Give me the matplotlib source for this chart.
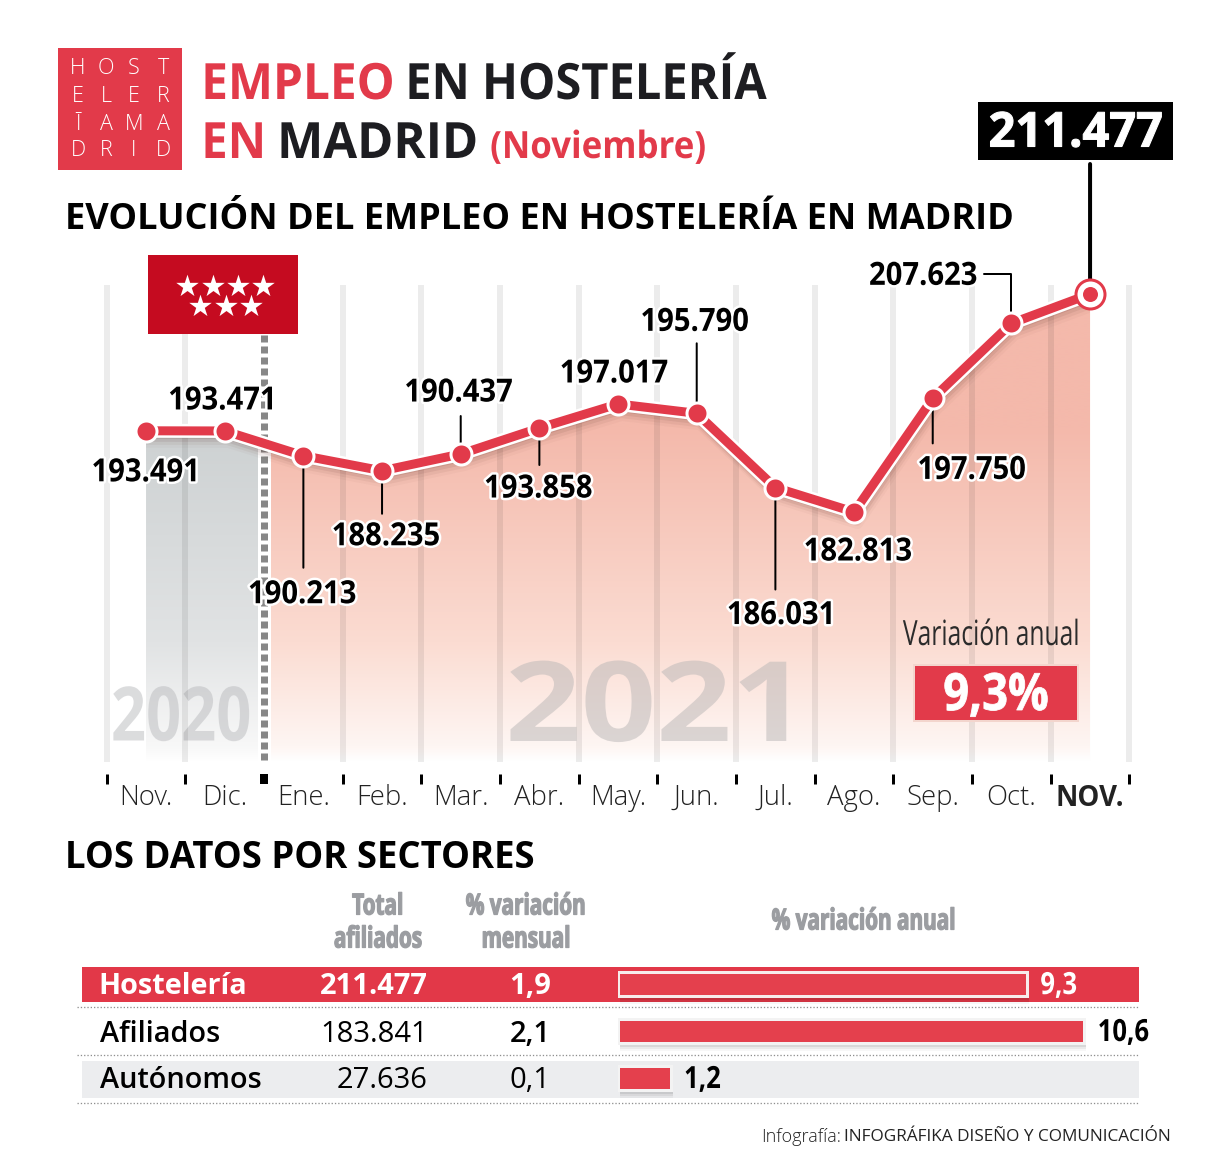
import numpy as np
import matplotlib
matplotlib.use('Agg')
import matplotlib.pyplot as plt
import matplotlib.patheffects as pe
from matplotlib.patches import Rectangle
from matplotlib.transforms import Affine2D, offset_copy

# Data
months = ['Nov.', 'Dic.', 'Ene.', 'Feb.', 'Mar.', 'Abr.', 'May.', 'Jun.', 'Jul.', 'Ago.', 'Sep.', 'Oct.', 'NOV.']
empleo = [193491, 193471, 190213, 188235, 190437, 193858, 197017, 195790, 186031, 182813, 197750, 207623, 211477]
empleo_labels = ['193.491', '193.471', '190.213', '188.235', '190.437', '193.858', '197.017',
                 '195.790', '186.031', '182.813', '197.750', '207.623']
sectores = ['Hostelería', 'Afiliados', 'Autónomos']
total_afiliados = ['211.477', '183.841', '27.636']
var_mensual = ['1,9', '2,1', '0,1']
var_anual = [9.3, 10.6, 1.2]
var_anual_labels = ['9,3', '10,6', '1,2']

W, H = 1205, 1165
P = 0.72  # points per pixel at dpi 100
RED = '#e23a4a'

plt.rcParams['font.family'] = ['Open Sans', 'DejaVu Sans']
plt.rcParams['lines.scale_dashes'] = False

fig = plt.figure(figsize=(W / 100, H / 100), dpi=100, facecolor='white')


class Squeeze(pe.AbstractPathEffect):
    """No condensed fonts here, so narrow the glyphs of a real text when it is drawn."""

    def __init__(self, sx, anchor='center', halo=0, fat=0):
        super().__init__()
        self.sx, self.anchor, self.halo, self.fat = sx, anchor, halo, fat

    def draw_path(self, renderer, gc, tpath, affine, rgbFace=None):
        e = tpath.get_extents()
        cx = {'left': e.x0, 'center': (e.x0 + e.x1) / 2, 'right': e.x1}[self.anchor]
        t = Affine2D().translate(-cx, 0).scale(self.sx, 1).translate(cx, 0) + affine
        if self.halo:
            gc0 = renderer.new_gc()
            gc0.copy_properties(gc)
            gc0.set_foreground('white')
            gc0.set_linewidth(self.halo)
            renderer.draw_path(gc0, tpath, t, (1, 1, 1))
            gc0.restore()
        gc1 = renderer.new_gc()
        gc1.copy_properties(gc)
        gc1.set_foreground(rgbFace)
        gc1.set_linewidth(self.fat)
        renderer.draw_path(gc1, tpath, t, rgbFace)
        gc1.restore()


def axes_px(l, t, r, b, **kw):
    return fig.add_axes([l / W, 1 - b / H, (r - l) / W, (b - t) / H], **kw)


# Background layer in picture pixels, for the furniture around the charts
bg = axes_px(0, 0, W, H, zorder=0)
bg.set_xlim(0, W)
bg.set_ylim(H, 0)
bg.axis('off')

# ============================================================================
# Header
# ============================================================================
bg.add_patch(Rectangle((58, 48), 124, 122, color=RED, lw=0))
logo_rows = ['HOST', 'ELER', 'ĪAMA', 'DRID']
for row, y in zip(logo_rows, [69, 97, 124, 150]):
    for ch, x in zip(row, [78, 106, 134, 163]):
        bg.text(x, y, ch, color='white', fontsize=15.5, weight='light', ha='center', va='center')

title_kw = dict(fontsize=36, weight='bold', va='baseline')
bg.text(201, 99, 'EMPLEO', color=RED, path_effects=[Squeeze(0.955, 'left')], **title_kw)
bg.text(405, 99, 'EN HOSTELERÍA', color='#1d1d21', path_effects=[Squeeze(0.94, 'left')], **title_kw)
bg.text(201, 158, 'EN', color=RED, path_effects=[Squeeze(0.945, 'left')], **title_kw)
bg.text(277, 158, 'MADRID', color='#1d1d21', path_effects=[Squeeze(0.98, 'left')], **title_kw)
bg.text(490, 158, '(Noviembre)', color=RED, fontsize=27, weight='bold', va='baseline',
        path_effects=[Squeeze(0.93, 'left')])

bg.text(65, 229, 'EVOLUCIÓN DEL EMPLEO EN HOSTELERÍA EN MADRID', color='black',
        fontsize=26, weight='bold', va='baseline')
bg.text(65, 868, 'LOS DATOS POR SECTORES', color='black', fontsize=26.3, weight='bold', va='baseline')

# ============================================================================
# Line chart
# ============================================================================
ax = axes_px(106.7, 285, 1129.4, 762, zorder=1)
ax.patch.set_alpha(0)
ax.set_xlim(-0.5, 12.5)
ax.set_ylim(149940, 212662)
for s in ['top', 'left', 'right']:
    ax.spines[s].set_visible(False)
ax.spines['bottom'].set_position(('outward', 12 * P))
ax.spines['bottom'].set_visible(False)
ax.set_yticks([])

x = np.arange(len(empleo))
y_top, y_bot = ax.get_ylim()[1], ax.get_ylim()[0]

# Gradient area under the line, gray for 2020 and salmon for 2021
shape = ax.fill_between(x, empleo, y_bot, color='none', lw=0)
area = shape.get_paths()[0]
stops = np.array([0.0, 0.3, 0.75, 0.97, 1.0])


def gradient(c0, c1, c2):
    cols = np.array([matplotlib.colors.to_rgb(c) for c in [c0, c0, c1, c2, 'white']])
    t = np.linspace(0, 1, 256)
    return np.stack([np.interp(t, stops, cols[:, i]) for i in range(3)], axis=1)[:, None, :]


for img, x0, x1 in [(gradient('#cdd1d2', '#e1e3e4', '#f8f8f8'), 0, 1.5),
                    (gradient('#f4b9ab', '#fbdcd2', '#fef6f3'), 1.5, 12)]:
    im = ax.imshow(img, extent=(x0, x1, y_bot, y_top), aspect='auto', zorder=1, interpolation='bilinear')
    im.set_clip_path(area, transform=ax.transData)
ax.set_xlim(-0.5, 12.5)
ax.set_ylim(y_bot, y_top)

# Big pale year marks
year_kw = dict(transform=bg.transData, ha='center', va='center', zorder=2, clip_on=False, weight='bold')
ax.text(181, 721, '2020', color='#b9babd', alpha=0.5, fontsize=54, path_effects=[Squeeze(0.82)], **year_kw)
ax.text(655, 712, '2021', color='#b9b6b6', alpha=0.5, fontsize=80, path_effects=[Squeeze(1.19)], **year_kw)

# Column gridlines, translucent so they darken over the area
edges = np.arange(-0.5, 13, 1.0)
grid_x = [e for e in edges if e != 1.5]
ax.vlines(grid_x, y_bot, y_top, color='black', alpha=0.075, lw=6 * P, zorder=3, clip_on=False)

# 2020 / 2021 divider
ax.plot([264, 264], [335, 762], color='white', lw=13 * P, zorder=3.1, transform=bg.transData, clip_on=False)
ax.plot([264, 264], [335, 762], color='#878787', lw=7 * P, ls=(0, (7 * P, 4 * P)), zorder=3.2,
        transform=bg.transData, clip_on=False)

# Soft shadow below the line
for off, a in [(3, 0.12), (6, 0.09), (9, 0.06), (12, 0.03)]:
    shadow, = ax.plot(x, empleo, color='#5a2a22', alpha=a, lw=10 * P, zorder=3.3,
                      transform=offset_copy(ax.transData, fig, x=off * 0.3, y=-off, units='dots'))
    shadow.set_clip_path(area, transform=ax.transData)

# Line and points
ax.plot(x, empleo, color='white', lw=14 * P, zorder=4, solid_joinstyle='round')
ax.plot(x, empleo, color=RED, lw=9 * P, zorder=5, solid_joinstyle='round')
ax.plot(x[:-1], empleo[:-1], 'o', color=RED, ms=21 * P, mec='white', mew=3 * P, zorder=6)
ax.plot(x[-1:], empleo[-1:], 'o', color='white', ms=29 * P, mec=RED, mew=3 * P, zorder=6, clip_on=False)
ax.plot(x[-1:], empleo[-1:], 'o', color=RED, ms=15 * P, mew=0, zorder=7, clip_on=False)

# Value labels, offsets in pixels from their point
label_offset = [(0, -42), (-2, 30), (-1, -139), (4, -66), (-2, 61), (-1, -61), (-4, 30),
                (-2, 91), (6, -128), (4, -40), (39, -72), (-88, 47)]
for i, (txt, off) in enumerate(zip(empleo_labels, label_offset)):
    ax.annotate(txt, xy=(i, empleo[i]), xytext=off, textcoords='offset pixels', ha='center', va='center',
                fontsize=23, weight='bold', color='black', zorder=8,
                path_effects=[Squeeze(0.915, halo=5 * P)])

leader_len = {2: -112, 3: -43, 4: 38, 5: -37, 7: 70, 8: -102, 10: -45}
for i, dy in leader_len.items():
    ax.annotate('', xy=(i, empleo[i]), xytext=(0, dy), textcoords='offset pixels', zorder=3.6,
                arrowprops=dict(arrowstyle='-', color='black', lw=2 * P, shrinkA=0, shrinkB=0))
ax.annotate('', xy=(11, empleo[11]), xytext=(-27, 49), textcoords='offset pixels', zorder=3.6,
            arrowprops=dict(arrowstyle='-', color='black', lw=2 * P, shrinkA=0, shrinkB=0,
                            connectionstyle='angle,angleA=0,angleB=90,rad=0'))
ax.annotate('', xy=(12, empleo[12]), xytext=(0, 130), textcoords='offset pixels', zorder=3.6,
            annotation_clip=False,
            arrowprops=dict(arrowstyle='-', color='black', lw=4 * P, shrinkA=0, shrinkB=0))

# Month axis
ax.set_xticks(edges)
ax.set_xticklabels([])
ax.tick_params(axis='x', which='major', length=10 * P, width=3 * P, color='black')
ax.xaxis.get_major_ticks()[2].tick1line.set_markeredgewidth(8 * P)
ax.set_xticks(x, labels=months, minor=True)
ax.tick_params(axis='x', which='minor', length=0, pad=7, labelsize=19.8, labelcolor='#222222')
for lab in ax.get_xticklabels(minor=True):
    lab.set_fontweight('light')
ax.get_xticklabels(minor=True)[-1].set_fontweight('bold')

# Madrid flag and boxes, kept above the gridlines
fg = axes_px(0, 0, W, H, zorder=2)
fg.set_xlim(0, W)
fg.set_ylim(H, 0)
fg.axis('off')
fg.patch.set_alpha(0)
fg.add_patch(Rectangle((148, 255), 150, 79, color='#c50b20', lw=0))
fg.scatter([187, 213, 238, 263, 200, 226, 251], [286, 286, 286, 286, 306, 306, 306],
           marker='*', s=290, color='white', lw=0)

# Last value box
fg.add_patch(Rectangle((978, 102), 195, 58, color='black', lw=0))
fg.text(1075.5, 134, '211.477', color='white', fontsize=34.5, weight='bold', ha='center', va='center',
        path_effects=[Squeeze(0.98, fat=0.8)])

# Annual variation box
fg.text(992, 636, 'Variación anual', color='#2b2b2b', fontsize=25, ha='center', va='center',
        path_effects=[Squeeze(0.71)])
fg.add_patch(Rectangle((914, 665), 164, 56, facecolor=RED, edgecolor='#f3d5cd', lw=2 * P))
fg.text(996, 697, '9,3%', color='white', fontsize=37, weight='bold', ha='center', va='center',
        path_effects=[Squeeze(0.88, fat=0.6)])

# ============================================================================
# Sector table
# ============================================================================
head_kw = dict(color='#9b9da1', fontsize=21, weight='bold', ha='center', va='center',
               path_effects=[Squeeze(0.71, fat=0.9)])
bg.text(378, 907, 'Total', **head_kw)
bg.text(378, 940, 'afiliados', **head_kw)
bg.text(526, 907, '% variación', **head_kw)
bg.text(526, 940, 'mensual', **head_kw)
bg.text(864, 922, '% variación anual', **head_kw)

bg.add_patch(Rectangle((82, 967), 1057, 35, color='#e23848', lw=0))
bg.add_patch(Rectangle((82, 1061), 1057, 37, color='#ecedef', lw=0))
bg.hlines([1007, 1055, 1103], 77, 1139, color='#8f8f8f', lw=1.3 * P, ls=(0, (1.3 * P, 2 * P)))

row_y = [987, 1034, 1080]
row_x = [98.5, 100, 100]
row_color = ['white', 'black', 'black']
row_weight = ['bold', 'normal', 'normal']
value_weight = ['bold', 'semibold', 'normal']
for i in range(3):
    bg.text(row_x[i], row_y[i], sectores[i], color=row_color[i], fontsize=20.8, va='center',
            weight='bold' if i == 0 else 'semibold')
    bg.text(428, row_y[i], total_afiliados[i], color=row_color[i], fontsize=21, va='center', ha='right',
            weight=row_weight[i])
    bg.text(530, row_y[i], var_mensual[i], color=row_color[i], fontsize=21, va='center', ha='center',
            weight=value_weight[i])

# Annual variation bars on their own value scale
bars = axes_px(618, 960.5, 1139, 1101.5, zorder=1)
bars.patch.set_alpha(0)
bars.axis('off')
bars.set_xlim(0, 521 / 44)
bars.set_ylim(2.5, -0.5)
rows = np.arange(3)
for off, a in [(2, 0.10), (4, 0.07), (6, 0.05), (8, 0.03)]:
    bars.barh(rows, var_anual, height=0.53, color='black', alpha=a, lw=0, zorder=1,
              transform=offset_copy(bars.transData, fig, x=2, y=-off, units='dots'))
bars.barh(rows, var_anual, height=0.53, color='#e4404d', edgecolor=['#f7eceb', '#f3f3f3', '#f3f3f3'], lw=3 * P, zorder=2)
for i in rows:
    bars.annotate(var_anual_labels[i], xy=(var_anual[i], i), xytext=(13, -2), textcoords='offset pixels',
                  color=row_color[i], fontsize=22, weight='bold', va='center', ha='left',
                  annotation_clip=False, zorder=3, path_effects=[Squeeze(0.84, 'left')])

# Credit line
bg.text(1171, 1137, 'INFOGRÁFIKA DISEÑO Y COMUNICACIÓN', color='#222222', fontsize=12.4, ha='right', va='center')
bg.text(841, 1137, 'Infografía:', color='#222222', fontsize=13, weight='light', ha='right', va='center')

plt.savefig('out.png', dpi=100)
